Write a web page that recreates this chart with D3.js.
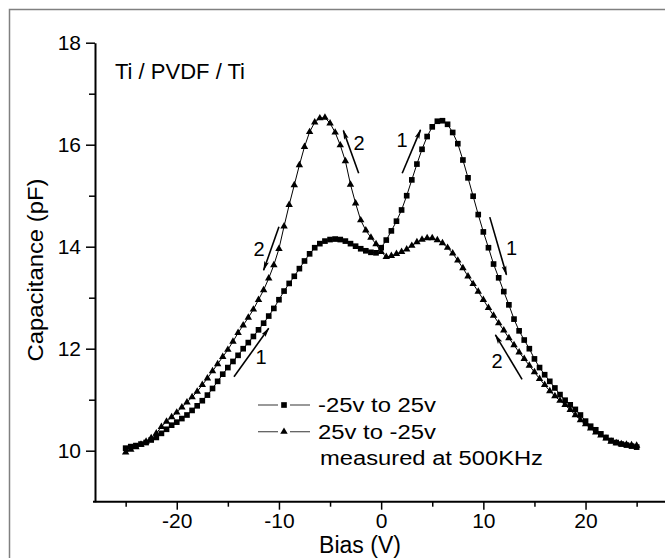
<!DOCTYPE html>
<html>
<head>
<meta charset="utf-8">
<script src="https://cdn.jsdelivr.net/npm/d3@7"></script>
<style>
  html, body { margin: 0; padding: 0; background: #fff; }
  svg { display: block; font-family: "Liberation Sans", Arial, sans-serif; }
</style>
</head>
<body>
<svg id="chart" width="665" height="558"></svg>
<script>
// bias sweep points (V)
const bias = [
  -25, -24.5, -24, -23.5, -23, -22.5, -22, -21.5, -21, -20.5,
  -20, -19.5, -19, -18.5, -18, -17.5, -17, -16.5, -16, -15.5,
  -15, -14.5, -14, -13.5, -13, -12.5, -12, -11.5, -11, -10.5,
  -10, -9.5, -9, -8.5, -8, -7.5, -7, -6.5, -6, -5.5,
  -5, -4.5, -4, -3.5, -3, -2.5, -2, -1.5, -1, -0.5,
  0, 0.5, 1, 1.5, 2, 2.5, 3, 3.5, 4, 4.5,
  5, 5.5, 6, 6.5, 7, 7.5, 8, 8.5, 9, 9.5,
  10, 10.5, 11, 11.5, 12, 12.5, 13, 13.5, 14, 14.5,
  15, 15.5, 16, 16.5, 17, 17.5, 18, 18.5, 19, 19.5,
  20, 20.5, 21, 21.5, 22, 22.5, 23, 23.5, 24, 24.5,
  25
];

// -25v to 25v sweep (squares), pF
const capUp = [
  10.05, 10.08, 10.10, 10.13, 10.16, 10.21, 10.26, 10.34, 10.42, 10.50,
  10.56, 10.63, 10.70, 10.79, 10.88, 10.98, 11.09, 11.22, 11.36, 11.50,
  11.63, 11.75, 11.87, 12.00, 12.12, 12.24, 12.37, 12.50, 12.64, 12.79,
  12.96, 13.13, 13.28, 13.42, 13.57, 13.72, 13.86, 13.98, 14.06, 14.11,
  14.14, 14.15, 14.14, 14.11, 14.06, 14.01, 13.96, 13.92, 13.89, 13.88,
  13.98, 14.13, 14.31, 14.50, 14.72, 15.00, 15.31, 15.62, 15.91, 16.16,
  16.35, 16.46, 16.47, 16.40, 16.24, 16.02, 15.70, 15.35, 14.99, 14.63,
  14.29, 13.98, 13.66, 13.39, 13.12, 12.86, 12.58, 12.35, 12.17, 12.00,
  11.80, 11.63, 11.49, 11.36, 11.23, 11.10, 10.99, 10.90, 10.81, 10.70,
  10.58, 10.48, 10.41, 10.33, 10.26, 10.20, 10.16, 10.13, 10.11, 10.09,
  10.07
];

// 25v to -25v sweep (triangles), pF
const capDown = [
  9.97, 10.02, 10.07, 10.12, 10.18, 10.25, 10.34, 10.47, 10.57, 10.66,
  10.75, 10.85, 10.95, 11.05, 11.16, 11.29, 11.42, 11.56, 11.70, 11.84,
  11.98, 12.14, 12.31, 12.46, 12.61, 12.77, 12.96, 13.15, 13.38, 13.64,
  13.96, 14.40, 14.82, 15.21, 15.60, 15.96, 16.25, 16.44, 16.52, 16.53,
  16.42, 16.24, 15.99, 15.68, 15.22, 14.85, 14.52, 14.32, 14.18, 14.05,
  13.90, 13.80, 13.82, 13.86, 13.90, 13.95, 14.02, 14.09, 14.14, 14.17,
  14.17, 14.13, 14.07, 13.98, 13.87, 13.73, 13.58, 13.42, 13.27, 13.12,
  12.96, 12.80, 12.65, 12.50, 12.36, 12.21, 12.07, 11.93, 11.80, 11.67,
  11.54, 11.41, 11.29, 11.17, 11.07, 10.98, 10.90, 10.80, 10.70, 10.60,
  10.52, 10.44, 10.36, 10.30, 10.24, 10.18, 10.15, 10.13, 10.12, 10.11,
  10.10
];

const xMajorTicks = [-20, -10, 0, 10, 20];
const xMinorTicks = [-25, -15, -5, 5, 15, 25];
const yMajorTicks = [10, 12, 14, 16, 18];
const yMinorTicks = [11, 13, 15, 17];

// sweep-direction arrows: [startV, startC, endV, endC]
const arrowLines = [
  [-14.4, 11.45, -11.0, 12.40],
  [-10.0, 14.39, -11.5, 13.54],
  [-2.2, 15.44, -3.7, 16.28],
  [2.06, 15.44, 3.85, 16.29],
  [10.63, 14.58, 12.26, 13.45],
  [13.79, 11.40, 11.18, 12.27]
];
const arrowLabels = ['1', '2', '2', '1', '1', '2'];
// label anchor [V, C]
const arrowLabelPos = [
  [-11.75, 11.84],
  [-11.95, 13.95],
  [-2.15, 16.04],
  [2.05, 16.09],
  [12.75, 13.97],
  [11.35, 11.76]
];

const legendNames = ['-25v to 25v', '25v to -25v'];

const svg = d3.select('#chart');

// outer frame
svg.append('path')
  .attr('d', 'M 9.5 558 V 9.5 H 665')
  .attr('fill', 'none')
  .attr('stroke', '#808080')
  .attr('stroke-width', 1.5);

const x = d3.scaleLinear().domain([-28, 28]).range([95, 667.3]);
const y = d3.scaleLinear().domain([9, 18]).range([501.7, 42.7]);

const tickFont = 21;
const plain = d => String(d);   // keep ascii hyphen for negatives

// ---- axes ----
const xAxis = svg.append('g')
  .attr('transform', `translate(0,${y(9)})`)
  .call(d3.axisBottom(x).tickValues(xMajorTicks).tickSize(8).tickPadding(3)
    .tickSizeOuter(0).tickFormat(plain));
xAxis.select('.domain').attr('d', `M${x(-28) - 2},0H${x(28)}`);
svg.append('g')
  .attr('transform', `translate(0,${y(9)})`)
  .call(d3.axisBottom(x).tickValues(xMinorTicks).tickSize(5).tickFormat(''))
  .call(g => g.select('.domain').remove());

svg.append('g')
  .attr('transform', `translate(${x(-28)},0)`)
  .call(d3.axisLeft(y).tickValues(yMajorTicks).tickSize(9).tickPadding(5)
    .tickSizeOuter(0).tickFormat(plain));
svg.append('g')
  .attr('transform', `translate(${x(-28)},0)`)
  .call(d3.axisLeft(y).tickValues(yMinorTicks).tickSize(6).tickFormat(''))
  .call(g => g.select('.domain').remove());

svg.selectAll('.domain').attr('stroke', '#000').attr('stroke-width', 2);
svg.selectAll('.tick line').attr('stroke', '#000').attr('stroke-width', 1.5);
svg.selectAll('.tick text')
  .attr('font-size', tickFont)
  .attr('font-family', '"Liberation Sans", Arial, sans-serif')
  .attr('fill', '#000');

// axis titles
svg.append('text')
  .attr('x', 360).attr('y', 553)
  .attr('text-anchor', 'middle')
  .attr('font-size', 23)
  .text('Bias (V)');

svg.append('text')
  .attr('transform', 'translate(43,270) rotate(-90)')
  .attr('text-anchor', 'middle')
  .attr('font-size', 22)
  .attr('textLength', 183)
  .attr('lengthAdjust', 'spacingAndGlyphs')
  .text('Capacitance (pF)');

svg.append('text')
  .attr('x', 115).attr('y', 79)
  .attr('font-size', 22)
  .text('Ti / PVDF / Ti');

// ---- series ----
const upData = bias.map((v, i) => ({ v, c: capUp[i] }));
const downData = bias.map((v, i) => ({ v, c: capDown[i] }));

const line = d3.line().x(d => x(d.v)).y(d => y(d.c));

const sq = d3.symbol().type(d3.symbolSquare).size(32);
const tri = d3.symbol().type(d3.symbolTriangle).size(24);

function drawSeries(data, symbol) {
  const g = svg.append('g');
  g.append('path')
    .datum(data)
    .attr('d', line)
    .attr('fill', 'none')
    .attr('stroke', '#000')
    .attr('stroke-width', 1);
  g.selectAll('path.pt')
    .data(data)
    .join('path')
    .attr('class', 'pt')
    .attr('transform', d => `translate(${x(d.v)},${y(d.c)})`)
    .attr('d', symbol)
    .attr('fill', '#000');
}

drawSeries(downData, tri);
drawSeries(upData, sq);

// ---- arrows ----
const defs = svg.append('defs');
defs.append('marker')
  .attr('id', 'head')
  .attr('viewBox', '0 0 10 6')
  .attr('refX', 9).attr('refY', 3)
  .attr('markerWidth', 10).attr('markerHeight', 6)
  .attr('markerUnits', 'userSpaceOnUse')
  .attr('orient', 'auto')
  .append('path')
  .attr('d', 'M0,0.6 L10,3 L0,5.4 L2,3 Z')
  .attr('fill', '#000');

svg.append('g').selectAll('line')
  .data(arrowLines)
  .join('line')
  .attr('x1', d => x(d[0])).attr('y1', d => y(d[1]))
  .attr('x2', d => x(d[2])).attr('y2', d => y(d[3]))
  .attr('stroke', '#000')
  .attr('stroke-width', 1.6)
  .attr('marker-end', 'url(#head)');

svg.append('g').selectAll('text')
  .data(arrowLabels)
  .join('text')
  .attr('x', (d, i) => x(arrowLabelPos[i][0]))
  .attr('y', (d, i) => y(arrowLabelPos[i][1]) + 7)
  .attr('text-anchor', 'middle')
  .attr('font-size', 20)
  .text(d => d);

// ---- legend ----
const legend = svg.append('g');
const legendRowY = [405, 431.7];
const legendSymbols = [sq, tri];
legendNames.forEach((name, i) => {
  const ly = legendRowY[i];
  legend.append('line')
    .attr('x1', 258).attr('x2', 278).attr('y1', ly).attr('y2', ly)
    .attr('stroke', '#555').attr('stroke-width', 1.2);
  legend.append('line')
    .attr('x1', 290).attr('x2', 310).attr('y1', ly).attr('y2', ly)
    .attr('stroke', '#555').attr('stroke-width', 1.2);
  legend.append('path')
    .attr('transform', `translate(284,${ly})`)
    .attr('d', legendSymbols[i])
    .attr('fill', '#000');
  legend.append('text')
    .attr('x', 318).attr('y', ly + 7)
    .attr('font-size', 20)
    .attr('textLength', 118)
    .attr('lengthAdjust', 'spacingAndGlyphs')
    .text(name);
});
legend.append('text')
  .attr('x', 320).attr('y', 465)
  .attr('font-size', 20)
  .attr('textLength', 223)
  .attr('lengthAdjust', 'spacingAndGlyphs')
  .text('measured at 500KHz');
</script>
</body>
</html>
